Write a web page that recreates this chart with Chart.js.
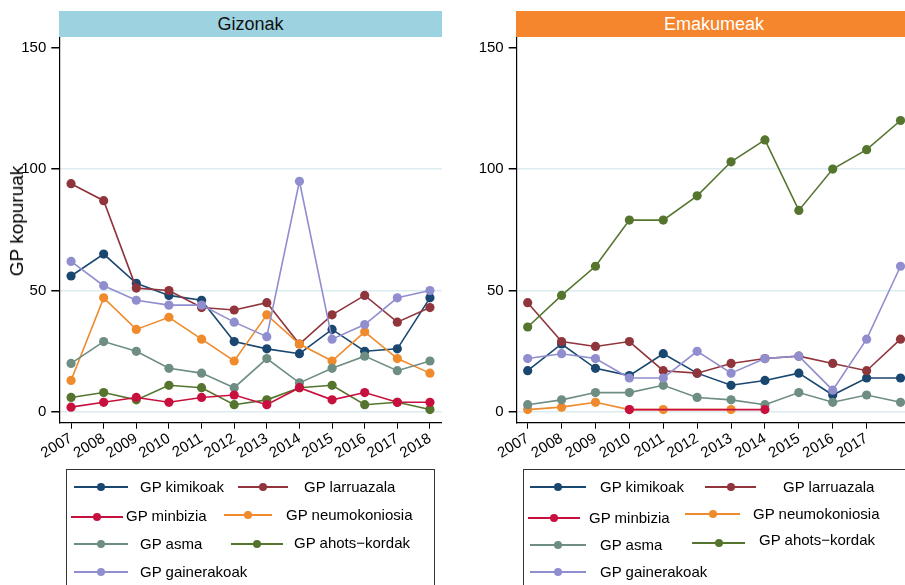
<!DOCTYPE html>
<html>
<head>
<meta charset="utf-8">
<script src="https://cdn.jsdelivr.net/npm/chart.js@4.4.0/dist/chart.umd.min.js"></script>
<style>
html, body { margin: 0; padding: 0; background: #fff; overflow: hidden; }
#wrap { position: relative; width: 905px; height: 585px; overflow: hidden; font-family: "Liberation Sans", Arial, sans-serif; color: #000; }
canvas { position: absolute; top: 0; }
.strip { position: absolute; top: 11px; height: 26px; line-height: 26px; text-align: center; font-size: 18px; }
.ytitle { position: absolute; left: 17px; top: 221px; font-size: 19px; white-space: nowrap; transform: translate(-50%, -50%) rotate(-90deg); }
.legbox { position: absolute; top: 469px; height: 200px; border: 1px solid #333; box-sizing: border-box; }
.lg-line { position: absolute; height: 2px; }
.lg-dot { position: absolute; width: 8px; height: 8px; border-radius: 50%; }
.lg-text { position: absolute; font-size: 15px; line-height: 18px; white-space: nowrap; }
</style>
</head>
<body>
<div id="wrap">
  <canvas id="gizChart" width="450" height="470" style="left:0px"></canvas>
  <canvas id="emaChart" width="460" height="470" style="left:457px"></canvas>
  <div class="strip" style="left:59px; width:383px; background:#9dd3e0; color:#111;">Gizonak</div>
  <div class="strip" style="left:516px; width:396px; background:#f5862e; color:#fff;">Emakumeak</div>
  <div class="ytitle">GP kopuruak</div>
  <div class="legbox" style="left:66px; width:369px;"></div>
  <div class="legbox" style="left:523px; width:400px;"></div>
</div>
<script>
// x categories and y ticks
const years = [2007, 2008, 2009, 2010, 2011, 2012, 2013, 2014, 2015, 2016, 2017, 2018];
const gizTickYears = [2007, 2008, 2009, 2010, 2011, 2012, 2013, 2014, 2015, 2016, 2017, 2018];
const emaTickYears = [2007, 2008, 2009, 2010, 2011, 2012, 2013, 2014, 2015, 2016, 2017];
const yTicks = [0, 50, 100, 150];
const seriesNames = ['GP kimikoak', 'GP larruazala', 'GP minbizia', 'GP neumokoniosia', 'GP asma', 'GP ahots\u2212kordak', 'GP gainerakoak'];

// Gizonak
const gizKimikoak     = [56, 65, 53, 48, 46, 29, 26, 24, 34, 25, 26, 47];
const gizLarruazala   = [94, 87, 51, 50, 43, 42, 45, 28, 40, 48, 37, 43];
const gizMinbizia     = [2, 4, 6, 4, 6, 7, 3, 10, 5, 8, 4, 4];
const gizNeumokoniosia = [13, 47, 34, 39, 30, 21, 40, 28, 21, 33, 22, 16];
const gizAsma         = [20, 29, 25, 18, 16, 10, 22, 12, 18, 23, 17, 21];
const gizAhotsKordak  = [6, 8, 5, 11, 10, 3, 5, 10, 11, 3, 4, 1];
const gizGainerakoak  = [62, 52, 46, 44, 44, 37, 31, 95, 30, 36, 47, 50];

// Emakumeak
const emaKimikoak     = [17, 28, 18, 15, 24, 16, 11, 13, 16, 7, 14, 14];
const emaLarruazala   = [45, 29, 27, 29, 17, 16, 20, 22, 23, 20, 17, 30];
const emaMinbizia     = [null, null, null, 1, null, null, null, 1, null, null, null, null];
const emaNeumokoniosia = [1, 2, 4, 1, 1, null, 1, null, null, null, null, null];
const emaAsma         = [3, 5, 8, 8, 11, 6, 5, 3, 8, 4, 7, 4];
const emaAhotsKordak  = [35, 48, 60, 79, 79, 89, 103, 112, 83, 100, 108, 120];
const emaGainerakoak  = [22, 24, 22, 14, 14, 25, 16, 22, 23, 9, 30, 60];

const colors = ['#1a476f', '#90353b', '#c8103e', '#ef8b2c', '#6e8e84', '#55752f', '#918ecf'];
const drawOrder = [7, 6, 1, 5, 4, 3, 2];
const fontFamily = '"Liberation Sans", Arial, sans-serif';

function makeDatasets(seriesList) {
    return seriesList.map((vals, i) => ({
        label: seriesNames[i],
        data: years.map((yr, j) => ({ x: yr, y: vals[j] })),
        borderColor: colors[i],
        backgroundColor: colors[i],
        borderWidth: 1.6,
        pointRadius: 4.6,
        pointHoverRadius: 4.6,
        pointBorderWidth: 0,
        spanGaps: true,
        tension: 0,
        order: drawOrder[i]
    }));
}

function makeChart(id, seriesList, opts) {
    return new Chart(document.getElementById(id), {
        type: 'line',
        data: { datasets: makeDatasets(seriesList) },
        options: {
            responsive: false,
            animation: false,
            events: [],
            layout: { padding: { top: 36.7, right: opts.padRight, left: 0, bottom: 0 } },
            plugins: { legend: { display: false }, tooltip: { enabled: false } },
            scales: {
                x: {
                    type: 'linear',
                    min: opts.xmin,
                    max: opts.xmax,
                    afterBuildTicks: s => { s.ticks = opts.tickYears.map(v => ({ value: v })); },
                    afterFit: s => { s.height = 47.3; },
                    grid: { drawOnChartArea: false, tickLength: 6, tickColor: '#000', color: '#000', lineWidth: 1 },
                    border: { display: true, color: '#000', width: 1.2 },
                    ticks: {
                        color: '#000', autoSkip: false, minRotation: 31, maxRotation: 31, padding: 1,
                        font: { size: 15, family: fontFamily },
                        callback: v => String(v)
                    }
                },
                y: {
                    type: 'linear',
                    min: -4.4,
                    max: 154.5,
                    afterBuildTicks: s => { s.ticks = yTicks.map(v => ({ value: v })); },
                    afterFit: s => { s.width = opts.yWidth; },
                    grid: {
                        color: c => (c.tick && c.tick.value === 150) ? 'rgba(0,0,0,0)' : '#dcebef',
                        lineWidth: 1.5, tickLength: 8, tickColor: '#000'
                    },
                    border: { display: true, color: '#000', width: 1.2 },
                    ticks: { color: '#000', padding: 5, font: { size: 15, family: fontFamily } }
                }
            }
        }
    });
}

makeChart('gizChart',
    [gizKimikoak, gizLarruazala, gizMinbizia, gizNeumokoniosia, gizAsma, gizAhotsKordak, gizGainerakoak],
    { xmin: 2006.64, xmax: 2018.36, padRight: 8.3, yWidth: 59.3, tickYears: gizTickYears });

makeChart('emaChart',
    [emaKimikoak, emaLarruazala, emaMinbizia, emaNeumokoniosia, emaAsma, emaAhotsKordak, emaGainerakoak],
    { xmin: 2006.676, xmax: 2018.324, padRight: 5.5, yWidth: 59.7, tickYears: emaTickYears });

// legend keys, placed like the original boxes: [series index, line x0, line x1, y, text x, text y]
const legendLayout = [
    [0, 74, 128, 487, 140, 487], [1, 238, 288, 487, 304, 487],
    [2, 71, 123, 517, 126, 516], [3, 224, 272, 515, 286, 515],
    [4, 74, 128, 544, 140, 544], [5, 231, 283, 544, 294, 543],
    [6, 74, 128, 572, 140, 572],
    [0, 530, 586, 487, 600, 487], [1, 705, 756, 487, 783, 487],
    [2, 528, 580, 518, 589, 518], [3, 685, 740, 514, 753, 514],
    [4, 530, 586, 545, 600, 545], [5, 692, 745, 543, 759, 540],
    [6, 530, 586, 572, 600, 572]
];

const wrap = document.getElementById('wrap');
legendLayout.forEach(([i, x0, x1, y, tx, ty]) => {
    const line = document.createElement('div');
    line.className = 'lg-line';
    line.style.cssText = `left:${x0}px; width:${x1 - x0}px; top:${y - 1}px; background:${colors[i]};`;
    const dot = document.createElement('div');
    dot.className = 'lg-dot';
    dot.style.cssText = `left:${(x0 + x1) / 2 - 4}px; top:${y - 4}px; background:${colors[i]};`;
    const txt = document.createElement('div');
    txt.className = 'lg-text';
    txt.style.cssText = `left:${tx}px; top:${ty - 9}px;`;
    txt.textContent = seriesNames[i];
    wrap.appendChild(line);
    wrap.appendChild(dot);
    wrap.appendChild(txt);
});
</script>
</body>
</html>
